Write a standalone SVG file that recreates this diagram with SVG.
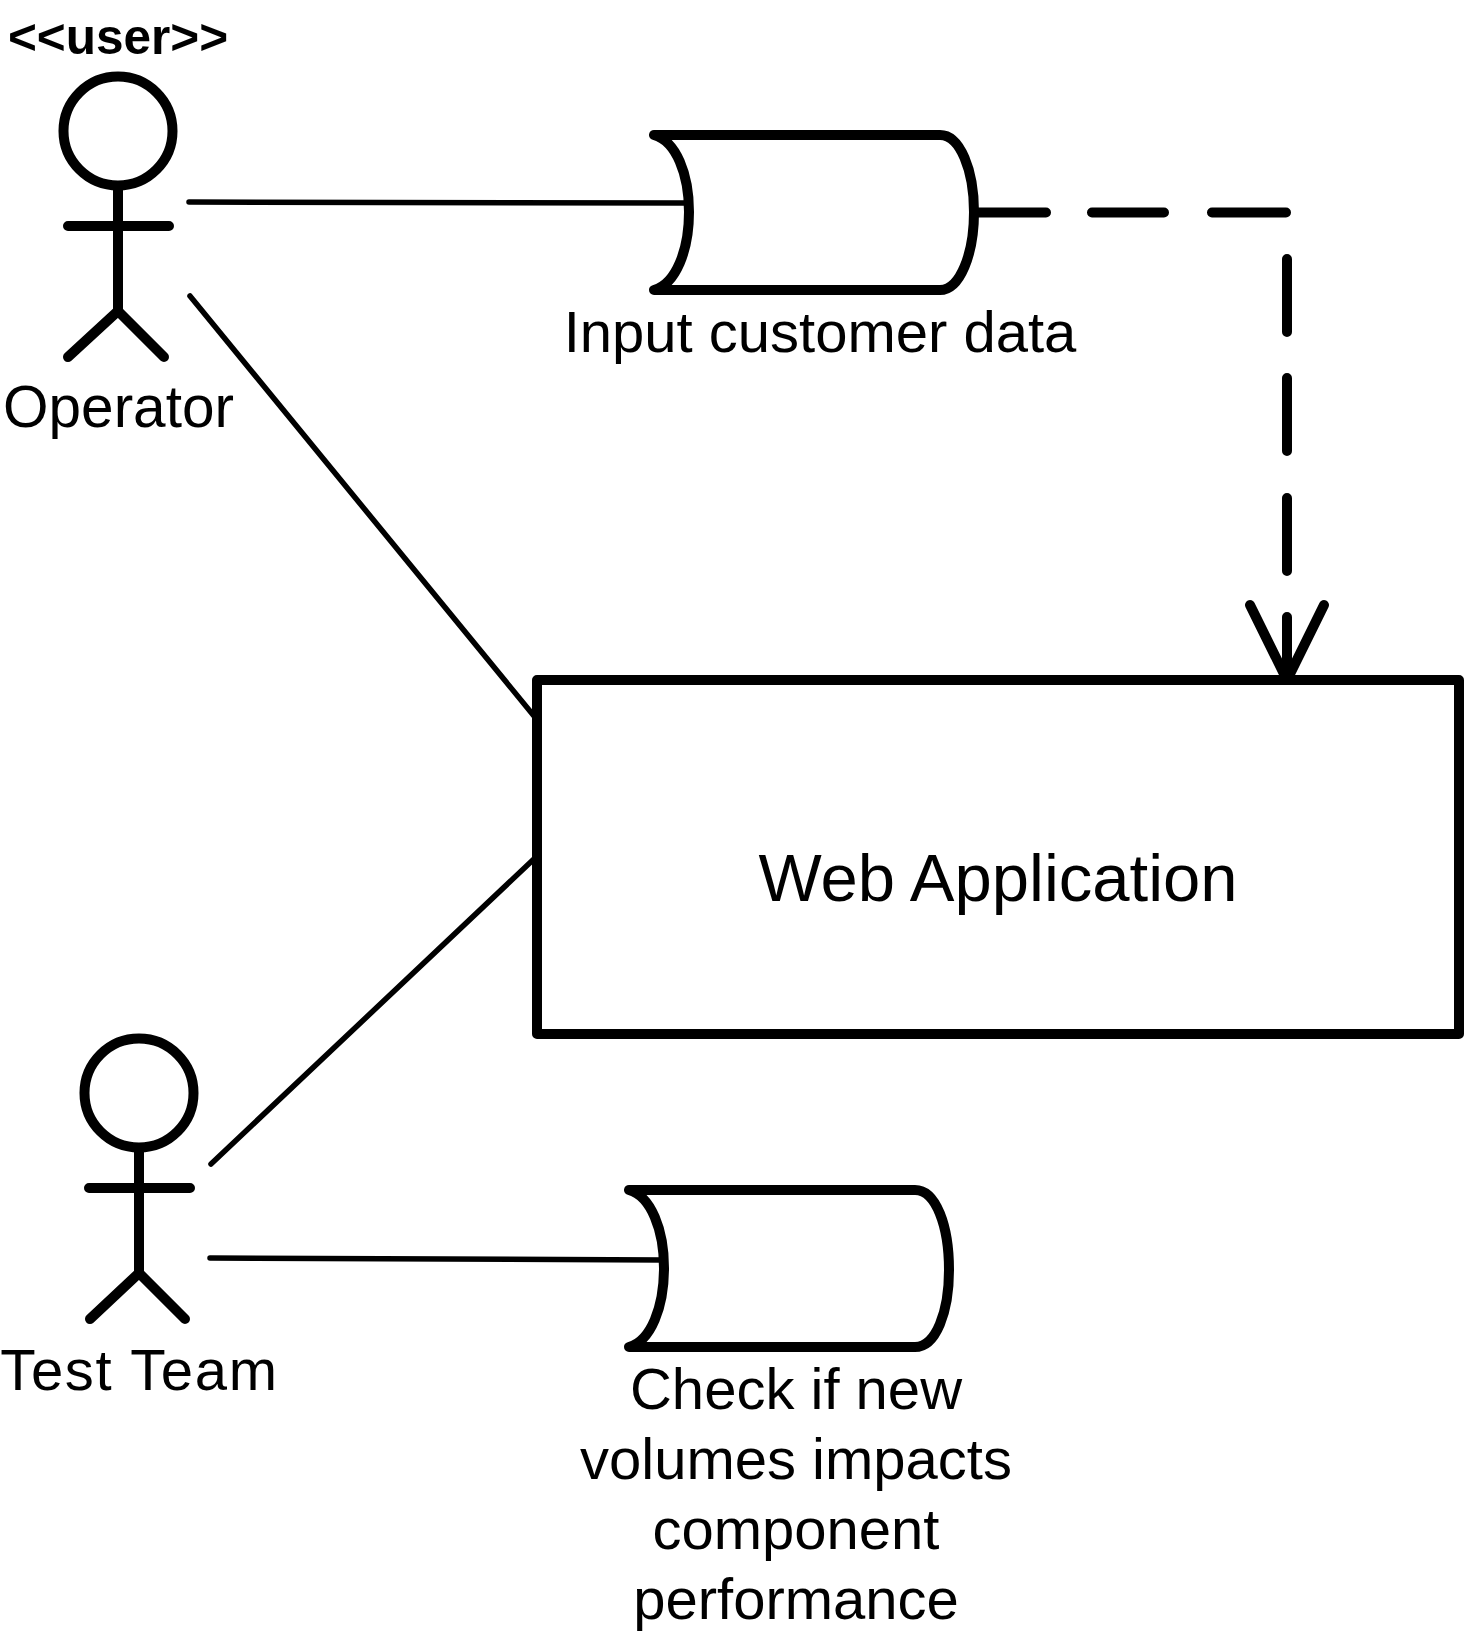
<svg xmlns="http://www.w3.org/2000/svg" width="1464" height="1639" viewBox="0 0 1464 1639">
<style>
.s{fill:none;stroke:#000;stroke-width:10;stroke-linecap:round;stroke-linejoin:round}
.l{fill:none;stroke:#000;stroke-width:5.5;stroke-linecap:round}
.t{font-family:"Liberation Sans",Arial,sans-serif;font-size:58px;fill:#000;text-anchor:middle}
</style>
<rect width="1464" height="1639" fill="#fff"/>
<g id="connectors">
<path class="l" d="M189 202L688 203"/>
<path class="l" d="M190 296L534 716"/>
<path class="l" d="M535 858L211 1164"/>
<path class="l" d="M210 1258L663 1260"/>
<path class="s" d="M977 212.500H1046M1092 212.500H1164M1212 212.500H1286M1287 259V332M1287 378V451M1287 498V571M1287 680V617M1287 680L1250 605M1287 680L1324 605"/>
</g>
<g id="operator">
<text x="118" y="54" class="t" style="font-weight:700;font-size:49.500px">&lt;&lt;user&gt;&gt;</text>
<circle class="s" cx="118" cy="131" r="54.500"/>
<path class="s" d="M118 186V311M68 226H169M118 311L68 357M118 311L164 357"/>
<text x="118.500" y="427" class="t" style="font-size:58.500px">Operator</text>
</g>
<g id="input-customer-data">
<path class="s" d="M654 135H940C960 135 974 170 974 212C974 254 960 290 940 290H654C676 284 689 250 689 212C689 174 676 141 654 135Z"/>
<text x="820" y="352" class="t">Input customer data</text>
</g>
<g id="web-application">
<rect class="s" x="537" y="680" width="922" height="354"/>
<text x="998" y="901" class="t" style="font-size:67px">Web Application</text>
</g>
<g id="test-team">
<circle class="s" cx="139" cy="1093" r="54.500"/>
<path class="s" d="M139 1148V1273M89 1188H190M139 1273L90 1319M139 1273L185 1319"/>
<text x="139.500" y="1390" class="t" style="letter-spacing:1.700px">Test Team</text>
</g>
<g id="check-volumes">
<path class="s" d="M629 1190H915C936 1190 949 1226 949 1270C949 1312 936 1347 915 1347H629C651 1341 664 1307 664 1268C664 1230 651 1196 629 1190Z"/>
<text class="t"><tspan x="796" y="1409">Check if new</tspan><tspan x="796" y="1479">volumes impacts</tspan><tspan x="796" y="1549">component</tspan><tspan x="796" y="1619">performance</tspan></text>
</g>
</svg>
